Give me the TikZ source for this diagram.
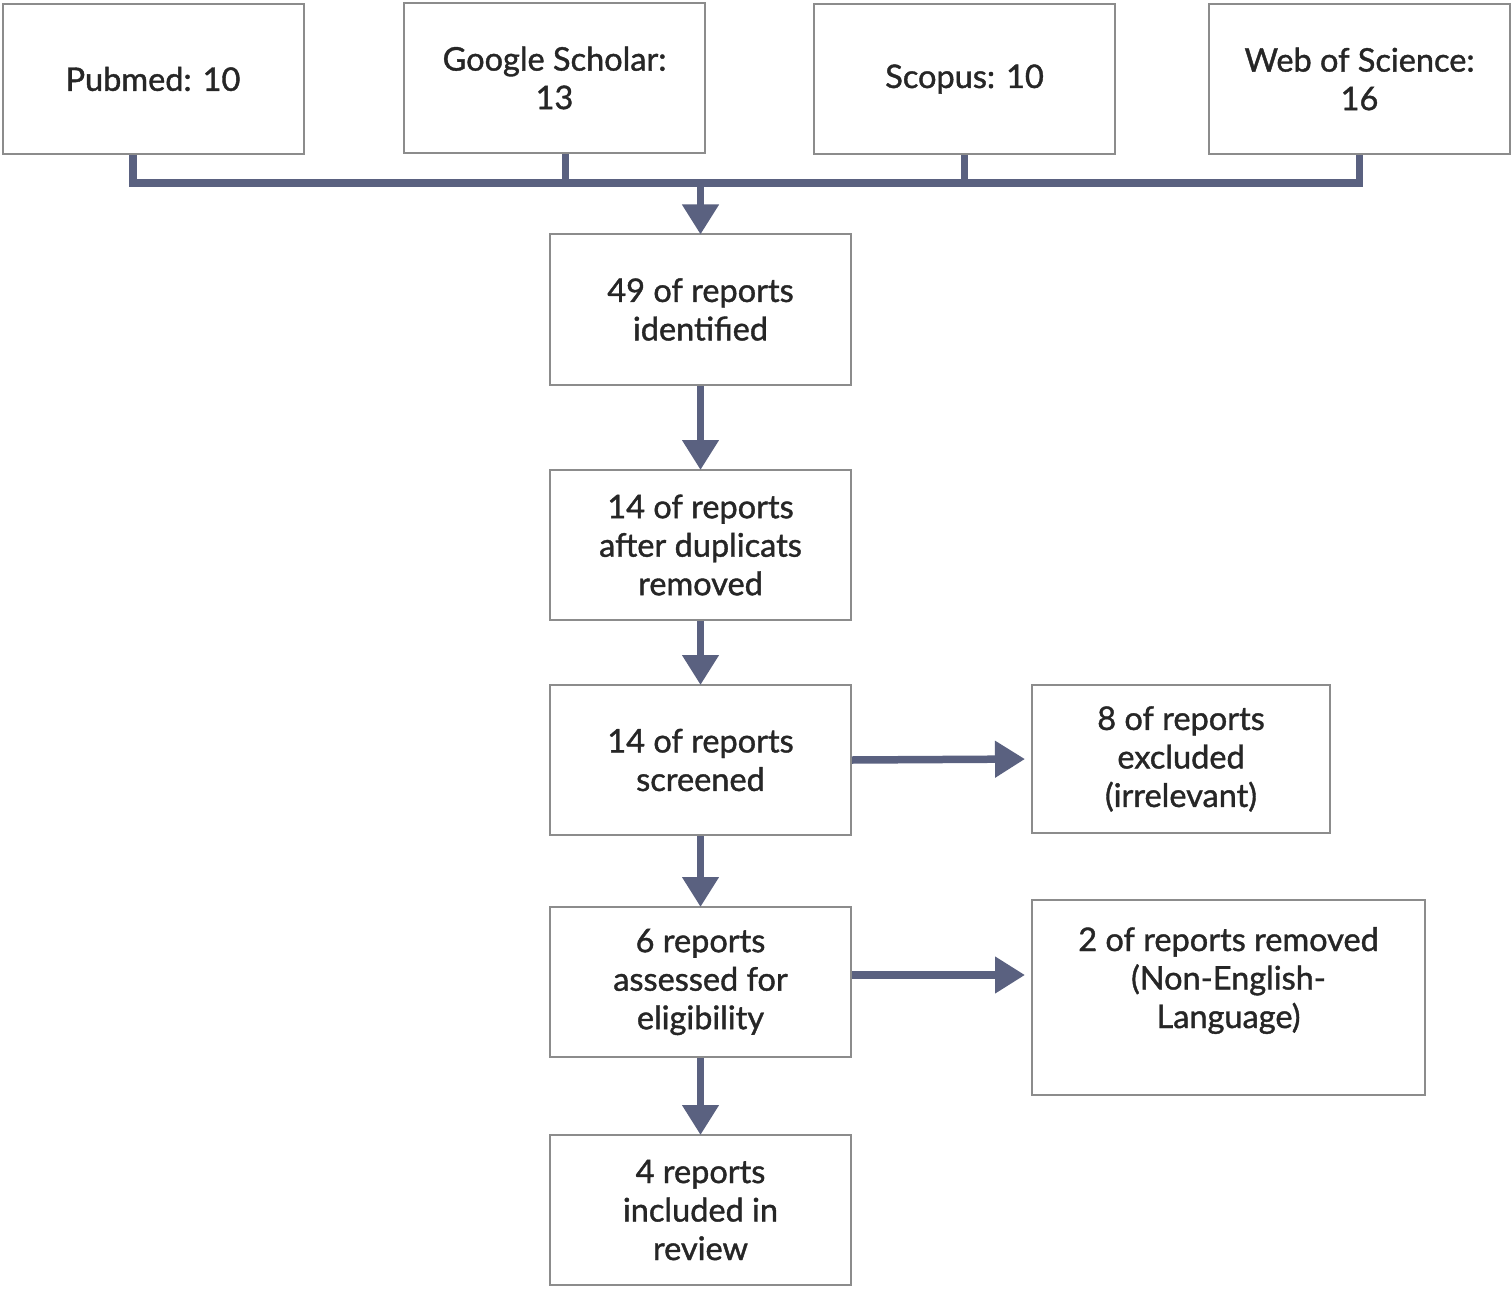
\documentclass[tikz,border=0pt]{standalone}
\usepackage{fontspec}
\setmainfont{Lato}
\newfontfamily\boxfont{Lato}[FakeBold=1.2]
\usetikzlibrary{arrows.meta}
\definecolor{conncol}{HTML}{5A6180}
\definecolor{boxcol}{HTML}{8C8C8C}
\definecolor{txtcol}{HTML}{262626}
\tikzset{
  boxtext/.style={text=txtcol, font=\boxfont\fontsize{32.5}{38.5}\selectfont},
  box/.style={draw=boxcol, line width=2pt, fill=white, minimum width=301pt, minimum height=150pt,
    inner sep=0pt, align=center, boxtext},
  conn/.style={draw=conncol, line width=7.5pt},
  arr/.style={conn, -{Triangle[width=35pt,length=30pt]}, shorten >=-1pt},
  harr/.style={conn, -{Triangle[width=35pt,length=30pt]}, shorten >=6pt},
}
\begin{document}
\begin{tikzpicture}[x=1pt,y=-1pt]
\useasboundingbox (0,0) rectangle (1512,1289);
% sources
\node[box] (pub) at (153,79) {Pubmed: 10};
\node[box] (gs)  at (554.5,78) {Google Scholar:\\13};
\node[box] (sco) at (964.5,79) {Scopus: 10};
\node[box] (wos) at (1359.5,79) {Web of Science:\\16};
% main column
\node[box] (b49) at (700.5,309.5) {49 of reports\\identified};
\node[box] (b14a) at (700.5,545) {14 of reports\\after duplicats\\removed};
\node[box] (b14b) at (700.5,760) {14 of reports\\screened};
\node[box] (b6) at (700.5,982) {6 reports\\assessed for\\eligibility};
\node[box] (b4) at (700.5,1210) {4 reports\\included in\\review};
% side boxes
\node[box, minimum width=298pt, minimum height=148pt] (b8) at (1181,759) {8 of reports\\excluded\\(irrelevant)};
\node[box, minimum width=393pt, minimum height=195pt,
  label={[anchor=center, yshift=17pt, align=center, boxtext]center:{2 of reports removed\\(Non-English-\\Language)}}] (b2) at (1228.5,997.5) {};
% bus
\coordinate (busY) at (0,183);
\draw[conn] ([xshift=-20pt]pub.south) |- (wos.south |- busY) -- (wos.south);
\draw[conn] ([xshift=11pt]gs.south) -- ([xshift=11pt]gs.south |- busY);
\draw[conn] (sco.south) -- (sco.south |- busY);
\draw[arr] (b49.north |- busY) -- (b49.north);
% flow
\draw[arr] (b49.south) -- (b14a.north);
\draw[arr] (b14a.south) -- (b14b.north);
\draw[arr] (b14b.south) -- (b6.north);
\draw[arr] (b6.south) -- (b4.north);
\draw[harr] (b14b.east) -- (b8.west);
\draw[harr] (b6.east |- 0,975) -- (b2.west |- 0,975);
\end{tikzpicture}
\end{document}
